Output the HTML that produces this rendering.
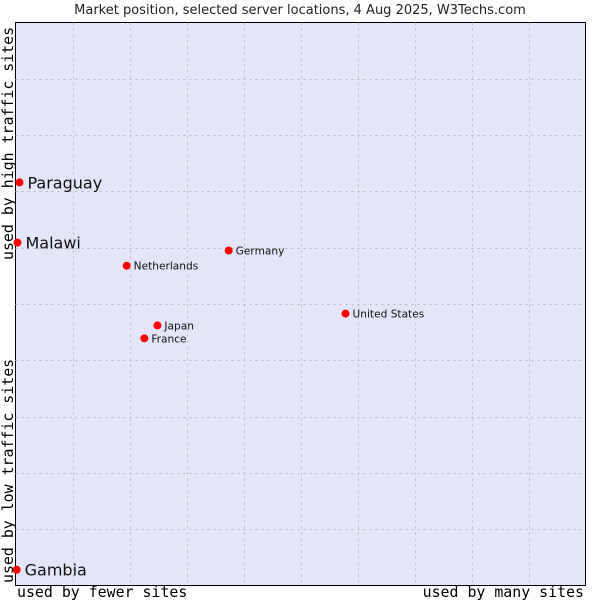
<!DOCTYPE html>
<html><head><meta charset="utf-8"><style>
body{margin:0;background:#fff;}
svg{display:block;font-family:"DejaVu Sans","Liberation Sans",sans-serif;}
</style></head><body>
<svg id="chart" width="600" height="600" viewBox="0 0 600 600">
<text x="300" y="14" text-anchor="middle" font-size="13" fill="#222">Market position, selected server locations, 4 Aug 2025, W3Techs.com</text>
<rect x="15.5" y="22.5" width="570" height="563" fill="#e4e5f8" stroke="#000" stroke-width="1"/>
<g id="grid"></g>
<g id="points"></g>
<text x="17" y="597" font-family="'DejaVu Sans Mono','Liberation Mono',monospace" font-size="14.9" fill="#000">used by fewer sites</text>
<text x="584" y="597" text-anchor="end" font-family="'DejaVu Sans Mono','Liberation Mono',monospace" font-size="14.9" fill="#000">used by many sites</text>
<text transform="translate(13,583) rotate(-90)" font-family="'DejaVu Sans Mono','Liberation Mono',monospace" font-size="14.9" fill="#000">used by low traffic sites</text>
<text transform="translate(13,260) rotate(-90)" font-family="'DejaVu Sans Mono','Liberation Mono',monospace" font-size="14.9" fill="#000">used by high traffic sites</text>
</svg>
<script>
const names=["Paraguay","Malawi","Netherlands","Germany","United States","Japan","France","Gambia"];
const xVals=[0.7,0.35,19.5,37.4,57.9,24.9,22.6,0.2];
const yVals=[71.6,60.9,56.8,59.5,48.3,46.2,43.9,2.8];
const bigLabel=[true,true,false,false,false,false,false,true];
const NS="http://www.w3.org/2000/svg";
const L=15.5,R=585.5,T=22.5,B=585.5;
const sx=v=>L+(R-L)*v/100, sy=v=>B-(B-T)*v/100;
const grid=document.getElementById('grid');
for(let i=1;i<10;i++){
  const v=document.createElementNS(NS,'line');
  
  
  const x=Math.round(sx(i*10))+0.5;
  v.setAttribute('x1',x);v.setAttribute('x2',x);v.setAttribute('y1',T);v.setAttribute('y2',B);
  v.setAttribute('stroke','#bbb');v.setAttribute('stroke-dasharray','2,4');grid.appendChild(v);
  const h=document.createElementNS(NS,'line');
  
  
  const y=Math.round(sy(i*10))+0.5;
  h.setAttribute('y1',y);h.setAttribute('y2',y);h.setAttribute('x1',L);h.setAttribute('x2',R);
  h.setAttribute('stroke','#bbb');h.setAttribute('stroke-dasharray','2,4');grid.appendChild(h);
}
const pts=document.getElementById('points');
names.forEach((n,i)=>{
  const x=sx(xVals[i]),y=sy(yVals[i]);
  const c=document.createElementNS(NS,'circle');
  
  
  c.setAttribute('cx',x);c.setAttribute('cy',y);c.setAttribute('r',4);c.setAttribute('fill','#f00');
  pts.appendChild(c);
  const t=document.createElementNS(NS,'text');
  
  
  t.setAttribute('x',x+(bigLabel[i]?8:7));t.setAttribute('y',y+(bigLabel[i]?6:4));
  t.setAttribute('font-size',bigLabel[i]?16:10.6);t.setAttribute('fill','#111');
  t.textContent=n;pts.appendChild(t);
});
</script>
</body></html>
